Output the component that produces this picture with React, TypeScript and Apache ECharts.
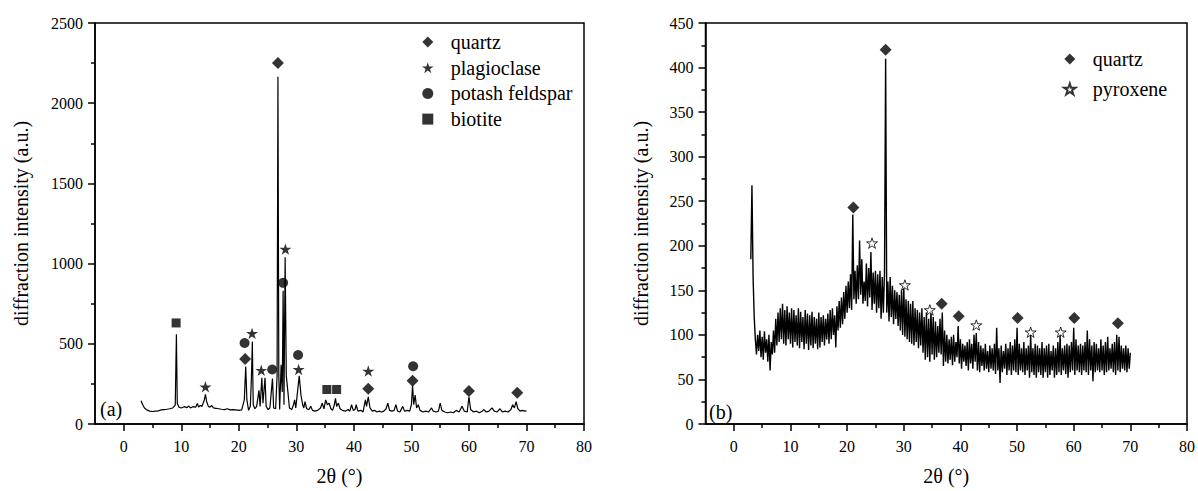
import React, { useEffect, useRef } from "react";
import * as echarts from "echarts";

const FONT = "Liberation Serif";

const TWO_THETA_MAJOR = [0, 10, 20, 30, 40, 50, 60, 70, 80];
const TWO_THETA_MINOR = [5, 15, 25, 35, 45, 55, 65, 75];

// (a) XRD pattern [2θ, intensity]
const PATTERN_A: [number, number][] = [
  [3.0, 145], [3.3, 120], [3.6, 100], [4.0, 88], [4.5, 80], [5.0, 78], [5.5, 80], [6.0, 82], [6.5, 88], [7.0, 90],
  [7.5, 92], [8.0, 95], [8.5, 100], [8.95, 118], [9.15, 560], [9.3, 130], [9.6, 105], [10.0, 100], [10.5, 108], [11.0, 102],
  [11.3, 112], [11.6, 100], [12.0, 108], [12.5, 105], [12.8, 128], [13.0, 105], [13.3, 115], [13.6, 110], [14.0, 150], [14.2, 185],
  [14.4, 140], [14.7, 110], [15.0, 105], [15.3, 115], [15.6, 100], [16.0, 98], [16.5, 95], [17.0, 92], [17.5, 90], [18.0, 95],
  [18.5, 88], [19.0, 90], [19.5, 88], [20.0, 85], [20.5, 88], [20.95, 150], [21.2, 358], [21.4, 150], [21.7, 85], [22.0, 110],
  [22.2, 300], [22.35, 515], [22.5, 120], [22.8, 95], [23.1, 110], [23.5, 210], [23.7, 110], [24.0, 288], [24.2, 130], [24.55, 288],
  [24.75, 110], [25.1, 90], [25.4, 100], [25.85, 283], [26.05, 100], [26.4, 95], [26.65, 300], [26.8, 2165], [26.95, 300], [27.1, 90],
  [27.35, 370], [27.55, 200], [27.7, 830], [27.85, 120], [28.05, 1040], [28.25, 300], [28.45, 230], [28.8, 100], [29.2, 90], [29.5, 120],
  [29.7, 150], [29.9, 100], [30.2, 200], [30.5, 300], [30.8, 180], [31.1, 120], [31.3, 100], [31.5, 140], [31.8, 95], [32.2, 90],
  [32.5, 110], [32.8, 85], [33.2, 80], [33.7, 85], [34.2, 100], [34.5, 130], [34.8, 95], [35.1, 150], [35.4, 120], [35.7, 130],
  [36.0, 95], [36.3, 85], [36.6, 120], [36.8, 160], [37.0, 110], [37.3, 130], [37.6, 95], [38.0, 85], [38.5, 80], [39.0, 90],
  [39.3, 80], [39.6, 120], [39.9, 85], [40.2, 90], [40.4, 120], [40.7, 80], [41.2, 85], [41.6, 75], [42.0, 150], [42.2, 110],
  [42.5, 170], [42.8, 100], [43.2, 80], [43.6, 85], [44.0, 75], [44.4, 80], [44.8, 75], [45.2, 80], [45.6, 95], [45.9, 130],
  [46.2, 85], [46.6, 80], [47.0, 85], [47.3, 120], [47.6, 80], [48.0, 75], [48.5, 110], [48.8, 80], [49.3, 85], [49.7, 80],
  [50.0, 120], [50.2, 240], [50.4, 120], [50.65, 180], [50.9, 100], [51.2, 120], [51.5, 85], [52.0, 75], [52.5, 80], [53.0, 75],
  [53.5, 100], [53.8, 80], [54.3, 75], [54.7, 80], [55.0, 130], [55.3, 85], [55.8, 75], [56.3, 70], [56.8, 75], [57.3, 70],
  [57.8, 85], [58.3, 75], [58.8, 110], [59.2, 80], [59.7, 75], [60.0, 170], [60.3, 90], [60.8, 75], [61.3, 80], [61.8, 70],
  [62.3, 80], [62.6, 90], [63.0, 75], [63.5, 80], [64.0, 100], [64.4, 80], [64.9, 75], [65.4, 95], [65.8, 75], [66.3, 80],
  [66.8, 75], [67.3, 90], [67.6, 120], [67.9, 100], [68.2, 140], [68.5, 95], [68.9, 80], [69.3, 85], [69.7, 80], [70.0, 82],
];

const QUARTZ_A: [number, number][] = [[21.1, 405], [26.8, 2250], [42.5, 220], [50.2, 270], [60.0, 205], [68.4, 195]];
const PLAGIOCLASE_A: [number, number][] = [[14.2, 232], [22.3, 565], [23.9, 335], [28.1, 1090], [30.4, 340], [42.5, 330]];
const POTASH_A: [number, number][] = [[21.0, 505], [25.8, 340], [27.7, 880], [30.3, 430], [50.3, 360]];
const BIOTITE_A: [number, number][] = [[9.1, 630], [35.3, 215], [37.0, 215]];

// (b) XRD pattern sampled every 0.2° from 3.0° to 70.0°
const PATTERN_B_START = 3.0;
const PATTERN_B_STEP = 0.2;
const PATTERN_B_Y = [
  185, 268, 165, 120, 95, 78, 100, 82, 105, 75,
  98, 72, 104, 80, 95, 70, 100, 60, 92, 78,
  105, 80, 118, 88, 125, 92, 130, 95, 135, 90,
  128, 88, 132, 95, 125, 90, 130, 86, 128, 92,
  122, 88, 130, 85, 126, 92, 120, 84, 128, 90,
  124, 83, 122, 88, 126, 85, 120, 90, 118, 84,
  125, 86, 120, 92, 122, 88, 118, 95, 124, 90,
  128, 95, 130, 100, 122, 86, 132, 105, 138, 108,
  142, 112, 148, 118, 155, 125, 160, 130, 168, 128,
  235, 140, 172, 135, 178, 140, 206, 145, 185, 135,
  160, 138, 180, 132, 175, 142, 193, 128, 170, 135,
  172, 125, 168, 130, 172, 118, 165, 125, 170, 410,
  125, 160, 115, 165, 120, 155, 112, 150, 118, 148,
  110, 145, 105, 150, 100, 155, 98, 140, 95, 138,
  92, 135, 90, 138, 88, 130, 92, 128, 85, 125,
  88, 130, 80, 120, 72, 125, 75, 118, 70, 128,
  78, 120, 72, 115, 75, 110, 80, 118, 78, 125,
  65, 105, 70, 100, 68, 95, 72, 98, 66, 100,
  70, 92, 75, 110, 68, 95, 62, 90, 70, 88,
  65, 92, 60, 95, 68, 90, 62, 100, 70, 102,
  60, 92, 58, 88, 65, 85, 60, 90, 62, 82,
  58, 88, 62, 85, 60, 90, 56, 108, 60, 85,
  46, 88, 58, 82, 62, 90, 55, 85, 60, 92,
  55, 88, 60, 95, 58, 108, 55, 90, 60, 85,
  58, 92, 55, 85, 60, 88, 52, 100, 58, 85,
  55, 90, 52, 88, 58, 85, 55, 92, 52, 85,
  58, 88, 52, 90, 55, 82, 60, 88, 52, 85,
  55, 92, 58, 100, 55, 85, 60, 88, 56, 90,
  52, 88, 58, 92, 60, 108, 55, 95, 60, 88,
  58, 90, 55, 88, 60, 92, 58, 105, 55, 95,
  60, 88, 48, 92, 58, 90, 60, 85, 58, 95,
  60, 88, 55, 92, 58, 98, 60, 85, 62, 90,
  58, 92, 55, 100, 60, 98, 58, 88, 62, 85,
  60, 88, 58, 85, 62, 80,
];

const QUARTZ_B: [number, number][] = [[21.1, 243], [26.8, 420], [36.7, 135], [39.7, 121], [50.1, 119], [60.1, 119], [67.8, 113]];
const PYROXENE_B: [number, number][] = [[24.4, 203], [30.2, 156], [34.6, 128], [42.8, 111], [52.4, 103], [57.7, 103]];

const LEGEND_A = ["quartz", "plagioclase", "potash feldspar", "biotite"];
const LEGEND_B = ["quartz", "pyroxene"];

const STAR =
  "path://M50,0L61.2,34.5L97.6,34.5L68.2,55.9L79.4,90.5L50,69.1L20.6,90.5L31.8,55.9L2.4,34.5L38.8,34.5Z";
const DIAMOND = "path://M50,0L100,50L50,100L0,50Z";
const SQUARE = "path://M0,0L100,0L100,100L0,100Z";
const CIRCLE = "circle";

const ICONS: Record<string, string> = {
  quartz: DIAMOND,
  plagioclase: STAR,
  "potash feldspar": CIRCLE,
  biotite: SQUARE,
  pyroxene: STAR,
};

export default function App() {
  const ref = useRef<HTMLDivElement>(null);
  useEffect(() => {
    if (!ref.current) return;
    const chart = echarts.init(ref.current, undefined, { renderer: "svg" });
    const patternB = PATTERN_B_Y.map((y, i) => [
      +(PATTERN_B_START + i * PATTERN_B_STEP).toFixed(2),
      y,
    ]);

    const tickStyle = { color: "#000", width: 1.5 };
    const label = { color: "#000", fontSize: 16, fontFamily: FONT };
    const nameStyle = { color: "#000", fontSize: 20, fontFamily: FONT };

    const mainX = (grid: number) => ({
      type: "value",
      gridIndex: grid,
      position: "bottom",
      min: -5,
      max: 80,
      axisLine: { show: true, onZero: false, lineStyle: tickStyle },
      axisTick: { show: true, length: 7, customValues: TWO_THETA_MAJOR, lineStyle: tickStyle },
      axisLabel: { ...label, margin: 14, customValues: TWO_THETA_MAJOR, formatter: (v: number) => String(v) },
      splitLine: { show: false },
      name: "2θ (°)",
      nameLocation: "middle",
      nameGap: 42,
      nameTextStyle: nameStyle,
    });
    const minorX = (grid: number) => ({
      type: "value",
      gridIndex: grid,
      position: "bottom",
      min: -5,
      max: 80,
      axisLine: { show: false, onZero: false },
      axisTick: { show: true, length: 4, customValues: TWO_THETA_MINOR, lineStyle: tickStyle },
      axisLabel: { show: false },
      splitLine: { show: false },
    });
    const yAx = (grid: number, max: number, interval: number, gap: number) => ({
      type: "value",
      gridIndex: grid,
      position: "left",
      min: 0,
      max,
      interval,
      axisLine: { show: true, onZero: false, lineStyle: tickStyle },
      axisTick: { show: true, length: 7, lineStyle: tickStyle },
      minorTick: { show: true, splitNumber: 2, length: 4, lineStyle: tickStyle },
      axisLabel: { ...label, margin: 12, formatter: (v: number) => String(v) },
      splitLine: { show: false },
      name: "diffraction intensity (a.u.)",
      nameLocation: "middle",
      nameGap: gap,
      nameTextStyle: nameStyle,
    });

    const scatter = (name: string, data: [number, number][], xi: number, yi: number, symbol: string, size: number, hollow = false) => ({
      name,
      type: "scatter",
      xAxisIndex: xi,
      yAxisIndex: yi,
      data,
      symbol,
      symbolSize: size,
      symbolKeepAspect: true,
      itemStyle: hollow
        ? { color: "#fff", borderColor: "#000", borderWidth: 1 }
        : { color: "#000" },
      silent: true,
      z: 5,
    });

    const legendText = {
      color: "#000",
      fontSize: 20,
      fontFamily: FONT,
      lineHeight: 22,
      padding: [0, 0, 0, 12],
    };
    const legendBase = {
      orient: "vertical",
      padding: 0,
      itemWidth: 12,
      itemHeight: 11,
      symbolKeepAspect: true,
      selectedMode: false,
      textStyle: legendText,
    };

    chart.setOption({
      animation: false,
      backgroundColor: "#fff",
      textStyle: { fontFamily: FONT },
      grid: [
        { left: 95, right: 614, top: 23, bottom: 64, show: true, borderColor: "#000", borderWidth: 1.5 },
        { left: 705.5, right: 8.7, top: 23, bottom: 64, show: true, borderColor: "#000", borderWidth: 1.5 },
      ],
      xAxis: [mainX(0), minorX(0), mainX(1), minorX(1)],
      yAxis: [yAx(0, 2500, 500, 64), yAx(1, 450, 50, 55)],
      legend: [
        {
          ...legendBase,
          data: LEGEND_A.map((name) => ({ name, icon: ICONS[name] })),
          left: 422,
          top: 31,
          itemGap: 3.7,
        },
        {
          ...legendBase,
          data: LEGEND_B.map((name) => ({ name, icon: ICONS[name] })),
          left: 1063,
          top: 48,
          itemGap: 8,
        },
      ],
      graphic: [
        { type: "text", left: 100, top: 399, style: { text: "(a)", font: `20px "${FONT}"`, fill: "#000" } },
        { type: "text", left: 709, top: 402, style: { text: "(b)", font: `20px "${FONT}"`, fill: "#000" } },
      ],
      series: [
        {
          name: "pattern a",
          type: "line",
          xAxisIndex: 0,
          yAxisIndex: 0,
          data: PATTERN_A,
          showSymbol: false,
          lineStyle: { color: "#000", width: 1.2 },
          silent: true,
        },
        scatter("quartz", QUARTZ_A, 0, 0, DIAMOND, 12),
        scatter("plagioclase", PLAGIOCLASE_A, 0, 0, STAR, 12),
        scatter("potash feldspar", POTASH_A, 0, 0, CIRCLE, 10),
        scatter("biotite", BIOTITE_A, 0, 0, SQUARE, 9),
        {
          name: "pattern b",
          type: "line",
          xAxisIndex: 2,
          yAxisIndex: 1,
          data: patternB,
          showSymbol: false,
          lineStyle: { color: "#000", width: 1.4 },
          silent: true,
        },
        scatter("quartz", QUARTZ_B, 2, 1, DIAMOND, 12),
        scatter("pyroxene", PYROXENE_B, 2, 1, STAR, 11, true),
      ],
    });
    return () => chart.dispose();
  }, []);
  return (
    <div
      ref={ref}
      style={{ position: "fixed", left: 0, top: 0, width: 1198, height: 491, background: "#fff" }}
    />
  );
}
